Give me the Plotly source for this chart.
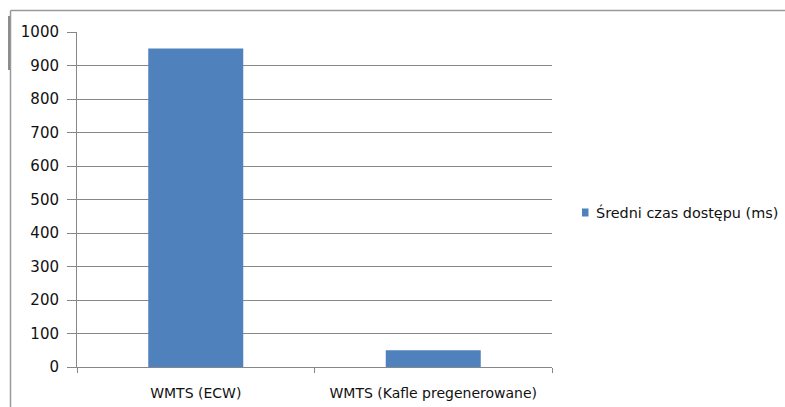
import plotly.graph_objects as go

categories = ["WMTS (ECW)", "WMTS (Kafle pregenerowane)"]
avg_access_ms = [951, 50]
series_name = "Średni czas dostępu (ms)"
y_ticks = [0, 100, 200, 300, 400, 500, 600, 700, 800, 900, 1000]

W, H = 785, 407
L, R, T, B = 77, 552, 32, 367  # plot area edges in pixels

BAR_COLOR = "#4F81BD"
TEXT_COLOR = "#111111"
GRID = "#878787"
X_FONT = dict(family="DejaVu Sans", size=14, color=TEXT_COLOR)
Y_FONT = dict(family="DejaVu Sans", size=15, color=TEXT_COLOR)
LEGEND_FONT = dict(family="DejaVu Sans", size=14.4, color=TEXT_COLOR)


def px_x(p):
    return (p - L) / (R - L)


def px_y(p):
    return (B - p) / (B - T)


fig = go.Figure(
    go.Bar(
        x=categories,
        y=avg_access_ms,
        name=series_name,
        marker=dict(color=BAR_COLOR, line=dict(width=0)),
        showlegend=False,
    )
)

# outer chart frame (top and left edges visible)
shapes = [
    dict(type="line", xref="paper", yref="paper",
         x0=px_x(10.5), x1=px_x(800), y0=px_y(10.5), y1=px_y(10.5),
         line=dict(color="#9a9a9a", width=1.5)),
    dict(type="line", xref="paper", yref="paper",
         x0=px_x(10.5), x1=px_x(10.5), y0=px_y(10.5), y1=px_y(420),
         line=dict(color="#9a9a9a", width=1.5)),
    dict(type="line", xref="paper", yref="paper",
         x0=px_x(9), x1=px_x(9), y0=px_y(16), y1=px_y(70),
         line=dict(color="#6a6a6a", width=1.5)),
    # legend key
    dict(type="rect", xref="paper", yref="paper",
         x0=px_x(582), x1=px_x(588.5), y0=px_y(216.5), y1=px_y(208.5),
         fillcolor=BAR_COLOR, line=dict(width=0)),
]

annotations = [
    dict(xref="paper", yref="paper", x=px_x(594), y=px_y(212.5),
         xanchor="left", yanchor="middle", showarrow=False,
         text=series_name, font=LEGEND_FONT),
]

fig.update_layout(
    width=W,
    height=H,
    margin=dict(l=L, r=W - R, t=T, b=H - B, pad=0, autoexpand=False),
    paper_bgcolor="white",
    plot_bgcolor="white",
    font=X_FONT,
    bargap=0.6,
    shapes=shapes,
    annotations=annotations,
    xaxis=dict(
        type="category",
        automargin=False,
        showgrid=False,
        showline=True,
        linecolor=GRID,
        linewidth=1,
        ticks="outside",
        tickson="boundaries",
        ticklen=5,
        tickcolor=GRID,
        tickfont=X_FONT,
        ticklabelstandoff=13,
    ),
    yaxis=dict(
        range=[0, 1000],
        tickvals=y_ticks,
        automargin=False,
        showgrid=True,
        gridcolor=GRID,
        gridwidth=1,
        zeroline=False,
        showline=True,
        linecolor=GRID,
        linewidth=1,
        ticks="outside",
        ticklen=9,
        tickcolor=GRID,
        tickfont=Y_FONT,
        ticklabelstandoff=5,
    ),
)

fig.write_html("out.html", config={"displayModeBar": False})
